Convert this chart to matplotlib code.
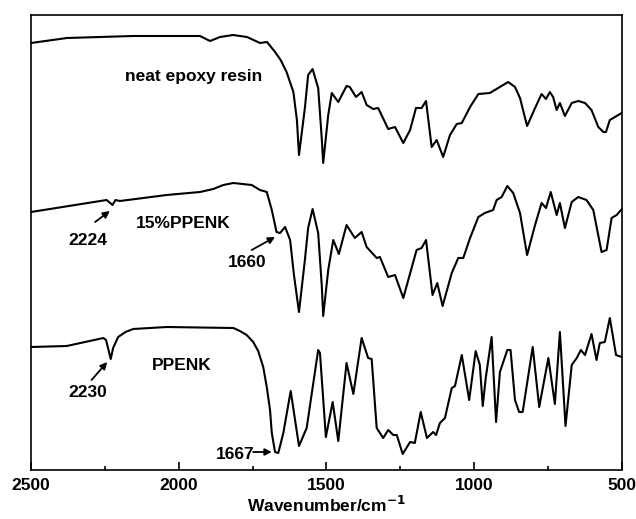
import numpy as np
import matplotlib
matplotlib.use("Agg")
import matplotlib.pyplot as plt

plt.rcParams['font.family'] = ['Liberation Sans', 'DejaVu Sans']
plt.rcParams['font.weight'] = 'bold'
plt.rcParams['mathtext.default'] = 'bf'

# FTIR spectra, transmittance in arbitrary units (curves already offset)
wn_epoxy = [2500, 2378, 2155, 1928, 1894, 1860, 1816, 1769, 1725, 1701, 1674, 1655, 1635,
            1612, 1600, 1593, 1573, 1562, 1547, 1528, 1516, 1511, 1494, 1482, 1460, 1432,
            1421, 1400, 1381, 1364, 1342, 1325, 1291, 1268, 1240, 1217, 1197, 1178, 1163,
            1144, 1127, 1105, 1082, 1059, 1042, 1014, 986, 947, 919, 885, 862, 845, 821,
            794, 772, 757, 744, 733, 721, 710, 693, 670, 648, 625, 603, 580, 563, 554,
            541, 518, 501, 500]
t_epoxy = [427, 432, 434, 434, 429, 433, 435, 433, 427, 428, 418, 410, 398,
           378, 350, 315, 362, 395, 401, 382, 332, 307, 355, 377, 368, 384,
           383, 373, 378, 365, 361, 362, 341, 343, 327, 340, 362, 362, 369,
           323, 330, 313, 335, 346, 347, 363, 376, 377, 382, 388, 383, 372, 344,
           362, 376, 371, 378, 373, 360, 367, 354, 367, 369, 367, 360, 343, 338, 338,
           350, 354, 357, 357]

wn_blend = [2500, 2244, 2224, 2214, 2199, 2041, 1928, 1883, 1849, 1815, 1753, 1725, 1702,
            1685, 1669, 1657, 1640, 1623, 1610, 1593, 1573, 1562, 1547, 1528, 1516, 1511,
            1494, 1477, 1458, 1432, 1404, 1381, 1364, 1330, 1319, 1291, 1268, 1240, 1195,
            1178, 1163, 1141, 1125, 1107, 1076, 1054, 1037, 1014, 986, 975, 964, 936,
            924, 907, 888, 868, 845, 821, 794, 772, 757, 741, 721, 710, 693, 670, 648,
            620, 597, 569, 552, 535, 518, 503, 500]
t_blend = [258, 270, 265, 270, 269, 275, 278, 281, 285, 287, 285, 280, 278,
           260, 238, 237, 243, 230, 195, 158, 210, 242, 261, 237, 185, 154,
           200, 230, 216, 245, 232, 238, 223, 212, 213, 193, 195, 172, 220,
           222, 230, 175, 187, 164, 197, 212, 212, 232, 253, 255, 257, 260,
           270, 273, 284, 277, 257, 215, 245, 267, 262, 278, 255, 267, 242, 268, 273,
           270, 260, 218, 220, 252, 255, 260, 261]

wn_ppenk = [2500, 2379, 2255, 2246, 2230, 2222, 2205, 2180, 2154, 2041, 1815, 1793, 1770,
            1748, 1731, 1714, 1702, 1691, 1685, 1674, 1663, 1646, 1621, 1593, 1567, 1528,
            1522, 1502, 1479, 1460, 1432, 1409, 1381, 1359, 1347, 1330, 1308, 1291, 1274,
            1262, 1242, 1217, 1201, 1181, 1160, 1139, 1129, 1116, 1099, 1076, 1065, 1042,
            1017, 995, 981, 971, 961, 941, 926, 913, 888, 877, 862, 848, 836, 802, 780,
            749, 727, 710, 691, 670, 653, 639, 625, 603, 586, 575, 558, 541, 520, 501, 500]
t_ppenk = [123, 124, 132, 130, 111, 122, 133, 138, 141, 143, 142, 139, 135,
           128, 119, 103, 83, 60, 37, 18, 17, 37, 79, 24, 42, 120,
           117, 33, 68, 29, 107, 76, 132, 112, 111, 42, 32, 40, 35,
           35, 16, 28, 27, 58, 32, 38, 35, 47, 52, 82, 84, 115,
           70, 119, 105, 64, 92, 133, 48, 98, 120, 120, 70, 58, 58, 123, 63,
           112, 66, 138, 44, 105, 112, 120, 115, 136, 110, 127, 128, 152, 115, 113, 113]

fig = plt.figure(figsize=(6.36, 5.19), dpi=100)
ax = fig.add_axes([0.0487, 0.0944, 0.9292, 0.8767])

for wn, t in [(wn_epoxy, t_epoxy), (wn_blend, t_blend), (wn_ppenk, t_ppenk)]:
    ax.plot(wn, t, color='black', lw=1.5, solid_joinstyle='round')

ax.set_xlim(2500, 500)
ax.set_ylim(0, 455)
ax.set_xticks([2500, 2000, 1500, 1000, 500])
ax.set_xticks([2250, 1750, 1250, 750], minor=True)
ax.set_yticks([])
ax.tick_params(axis='x', which='major', direction='in', length=6, width=1.2, labelsize=12.5, pad=6)
ax.tick_params(axis='x', which='minor', direction='in', length=3, width=1.2)
for lab in ax.get_xticklabels():
    lab.set_fontweight('bold')
for sp in ax.spines.values():
    sp.set_linewidth(1.2)
ax.set_xlabel('Wavenumber/cm$^{-1}$', fontsize=12.5, fontweight='bold', labelpad=1)

fs = 12.5
ax.text(1948, 394, 'neat epoxy resin', ha='center', va='center', fontsize=fs, fontweight='bold')
ax.text(1986, 247, '15%PPENK', ha='center', va='center', fontsize=fs, fontweight='bold')
ax.text(1990, 105, 'PPENK', ha='center', va='center', fontsize=fs, fontweight='bold')

ap = dict(arrowstyle='-|>', color='black', lw=1.3, mutation_scale=10, shrinkA=0, shrinkB=0)
ax.annotate('', xy=(2233, 259), xytext=(2283, 248), arrowprops=ap)
ax.text(2308, 230, '2224', ha='center', va='center', fontsize=fs, fontweight='bold')
ax.annotate('', xy=(1674, 233), xytext=(1753, 220), arrowprops=ap)
ax.text(1767, 208, '1660', ha='center', va='center', fontsize=fs, fontweight='bold')
ax.annotate('', xy=(2242, 108), xytext=(2295, 90), arrowprops=ap)
ax.text(2309, 78, '2230', ha='center', va='center', fontsize=fs, fontweight='bold')
ax.annotate('', xy=(1685, 18), xytext=(1748, 18), arrowprops=ap)
ax.text(1810, 16, '1667', ha='center', va='center', fontsize=fs, fontweight='bold')

fig.savefig('out.png', dpi=100)
